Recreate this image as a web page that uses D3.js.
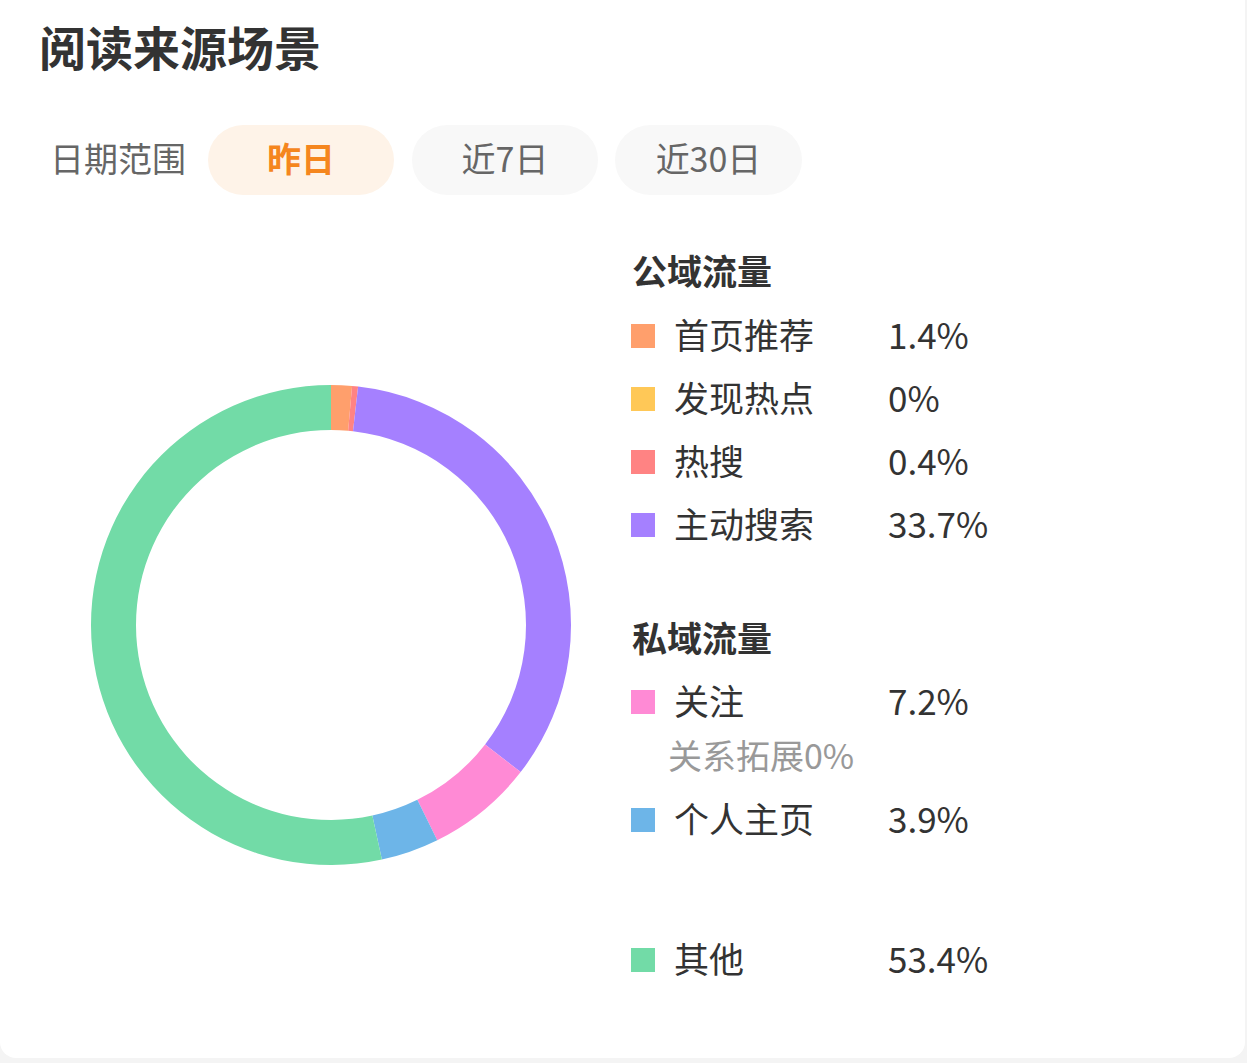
<!DOCTYPE html>
<html><head><meta charset="utf-8">
<script src="https://cdn.jsdelivr.net/npm/d3@7"></script>
<style>
html,body{margin:0;padding:0;background:#f4f4f4;}
svg{display:block;}
text{font-family:"Noto Sans CJK SC","Noto Sans",sans-serif;}
</style></head>
<body>
<script>
const title = "阅读来源场景";
const rangeLabel = "日期范围";
const rangeOptions = ["昨日", "近7日", "近30日"];
const categories = ["首页推荐", "发现热点", "热搜", "主动搜索", "关注", "关系拓展", "个人主页", "其他"];
const values = [1.4, 0, 0.4, 33.7, 7.2, 0, 3.9, 53.4];
const colors = ["#FF9F6C", "#FFC857", "#FF8383", "#A580FF", "#FF8AD5", "#B0B0B0", "#6DB5E8", "#72DBA7"];
const groupNames = ["公域流量", "私域流量"];

const colorMap = {};
categories.forEach((c, i) => colorMap[c] = colors[i]);

const W = 1247, H = 1063;
const svg = d3.select("body").append("svg").attr("width", W).attr("height", H);
svg.append("rect").attr("x", 0).attr("y", -20).attr("width", W - 2).attr("height", H - 5 + 20).attr("rx", 16).attr("fill", "#fff");

svg.append("text").attr("x", 39).attr("y", 66).attr("font-size", 47).attr("font-weight", 700).attr("fill", "#333").text(title);

svg.append("text").attr("x", 50).attr("y", 172).attr("font-size", 34).attr("fill", "#666").text(rangeLabel);
const pillX = [208, 412, 615], pillW = [186, 186, 187];
rangeOptions.forEach((o, i) => {
  const sel = i === 0;
  svg.append("rect").attr("x", pillX[i]).attr("y", 125).attr("width", pillW[i]).attr("height", 70).attr("rx", 35)
    .attr("fill", sel ? "#FEF3E8" : "#F8F8F8");
  svg.append("text").attr("x", pillX[i] + pillW[i] / 2).attr("y", 172).attr("text-anchor", "middle")
    .attr("font-size", 34).attr("font-weight", sel ? 700 : 400).attr("fill", sel ? "#F5861E" : "#666").text(o);
});

// donut
const cx = 331, cy = 625;
const data = categories.map((c, i) => ({c, v: values[i]}));
const pie = d3.pie().value(d => d.v).sort(null);
const arc = d3.arc().innerRadius(195).outerRadius(240);
const g = svg.append("g").attr("transform", `translate(${cx},${cy})`);
g.selectAll("path").data(pie(data)).join("path").attr("d", arc).attr("fill", d => colorMap[d.data.c]);

// legend
const valOf = {};
categories.forEach((c, i) => valOf[c] = values[i]);
const L = svg.append("g");
function header(txt, y) {
  L.append("text").attr("x", 632).attr("y", y + 13).attr("font-size", 35).attr("font-weight", 700).attr("fill", "#333").text(txt);
}
function row(name, y) {
  L.append("rect").attr("x", 631).attr("y", y - 12).attr("width", 24).attr("height", 24).attr("fill", colorMap[name]);
  L.append("text").attr("x", 674).attr("y", y + 13).attr("font-size", 35).attr("fill", "#333").text(name);
  L.append("text").attr("x", 888).attr("y", y + 13).attr("font-size", 35).attr("fill", "#333")
    .attr("textLength", null).text(valOf[name] + "%");
}
header(groupNames[0], 272);
row(categories[0], 336);
row(categories[1], 399);
row(categories[2], 462);
row(categories[3], 525);
header(groupNames[1], 639);
row(categories[4], 702);
L.append("text").attr("x", 668).attr("y", 769).attr("font-size", 34).attr("fill", "#999").text(categories[5] + valOf[categories[5]] + "%");
row(categories[6], 820);
row(categories[7], 960);
</script>
</body></html>
